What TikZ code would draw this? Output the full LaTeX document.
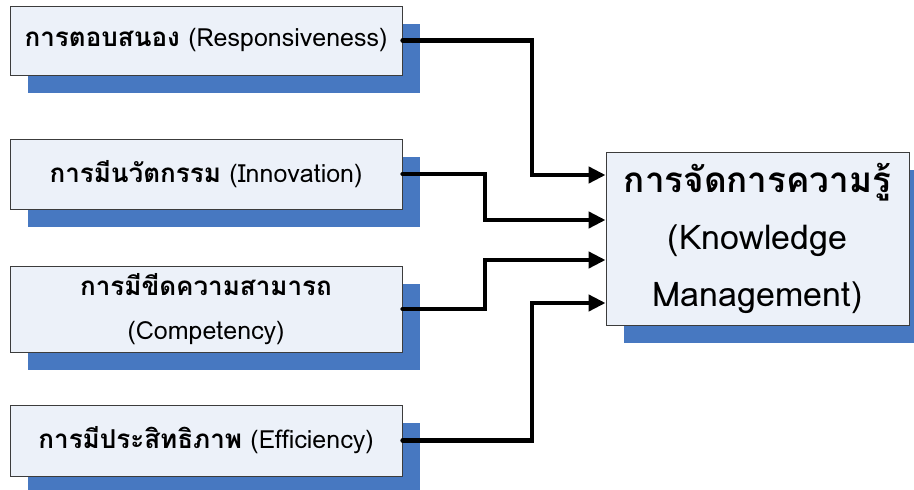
\documentclass[tikz,border=0pt]{standalone}
\usepackage{fontspec}
\setmainfont[Script=Thai]{Loma}
\usetikzlibrary{shadows,arrows.meta}
\definecolor{boxfill}{RGB}{236,241,249}
\definecolor{shadowblue}{RGB}{71,120,193}
\definecolor{boxline}{RGB}{60,60,60}
\tikzset{
  box/.style={draw=boxline, line width=0.9pt, fill=boxfill, rectangle, inner sep=0pt, align=center,
    drop shadow={shadow xshift=18pt, shadow yshift=-18pt, fill=shadowblue, opacity=1}},
  smalltext/.style={font=\fontsize{25}{43}\selectfont},
  conn/.style={line width=4.2pt, line cap=round, -{Triangle[length=17pt,width=16pt]}}
}
\newcommand{\thaiword}[1]{{\fontsize{26}{43}\selectfont\textbf{#1}}}
\begin{document}
\begin{tikzpicture}[x=1pt,y=-1pt]
\useasboundingbox (0,0) rectangle (914,490);
\node[box, smalltext, minimum width=392pt, minimum height=69pt] (b1) at (206,40.5)
  {\thaiword{การตอบสนอง} (Responsiveness)};
\node[box, smalltext, minimum width=392pt, minimum height=70pt] (b2) at (206,174)
  {\thaiword{การมีนวัตกรรม} (Innovation)};
\node[box, smalltext, minimum width=392pt, minimum height=86pt] (b3) at (206,309)
  {\raisebox{-2pt}{\thaiword{การมีขีดความสามารถ}}\\\raisebox{-3pt}{(Competency)}};
\node[box, smalltext, minimum width=392pt, minimum height=71pt] (b4) at (206,440.5)
  {\thaiword{การมีประสิทธิภาพ} (Efficiency)};
\node[box, minimum width=303pt, minimum height=173pt, font=\fontsize{34}{57}\selectfont] (kb) at (757.5,238.5)
  {{\fontsize{35}{57}\selectfont\textbf{การจัดการความรู้}}\\(Knowledge\\Management)};
\coordinate (y1) at (0,175);
\coordinate (y2) at (0,220);
\coordinate (y3) at (0,260);
\coordinate (y4) at (0,303);
\draw[conn] (b1.east) -| (532,175) -- (kb.west |- y1);
\draw[conn] (b2.east) -| (485,220) -- (kb.west |- y2);
\draw[conn] (b3.east) -| (485,260) -- (kb.west |- y3);
\draw[conn] (b4.east) -| (532,303) -- (kb.west |- y4);
\end{tikzpicture}
\end{document}
